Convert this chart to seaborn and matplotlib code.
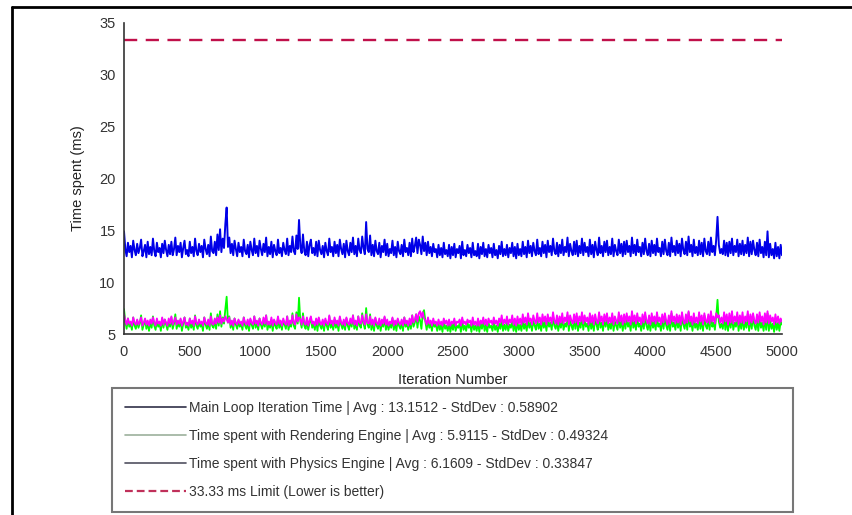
import matplotlib
matplotlib.use("Agg")
import matplotlib.pyplot as plt
from matplotlib.lines import Line2D
import numpy as np
import pandas as pd
import seaborn as sns

# Sampled timings, one reading every 10 iterations (0 .. 5000)
step = 10
main_loop_ms = [
    14.9, 13.2, 12.5, 13.8, 12.9, 13.5, 12.4, 14.0, 13.1, 12.6,
    13.7, 12.8, 13.3, 14.1, 12.5, 13.0, 13.6, 12.4, 13.9, 12.7,
    13.4, 12.6, 14.2, 13.0, 12.5, 13.8, 12.9, 13.3, 12.4, 13.7,
    12.8, 14.0, 13.1, 12.5, 13.6, 12.7, 13.9, 12.6, 13.2, 14.3,
    12.6, 13.5, 12.9, 13.8, 12.4, 13.3, 14.0, 12.7, 13.1, 12.5,
    13.9, 12.8, 13.4, 12.5, 14.2, 13.0, 12.6, 13.7, 12.9, 13.5,
    12.4, 14.1, 13.2, 12.7, 13.6, 12.5, 14.4, 13.0, 12.8, 13.9,
    12.6, 14.6, 13.1, 15.1, 12.9, 14.2, 13.3, 15.6, 17.2, 13.4,
    14.3, 12.8, 13.7, 12.6, 14.0, 13.2, 12.5, 13.8, 12.9, 13.4,
    12.5, 14.1, 13.0, 12.7, 13.6, 12.4, 13.9, 13.1, 12.6, 14.2,
    12.8, 13.5, 12.5, 14.0, 13.2, 12.6, 13.7, 12.9, 14.3, 12.5,
    13.4, 12.7, 13.9, 12.4, 13.6, 13.0, 12.6, 14.1, 12.8, 13.3,
    12.5, 13.8, 13.1, 12.7, 14.2, 12.6, 13.5, 12.9, 14.4, 13.0,
    12.7, 14.5, 13.2, 16.0, 13.4, 12.8, 14.6, 13.0, 12.6, 13.9,
    12.5, 13.6, 14.1, 12.8, 13.3, 12.6, 13.9, 12.5, 14.0, 13.1,
    12.7, 13.5, 12.4, 13.8, 13.0, 12.6, 14.2, 12.9, 13.4, 12.5,
    13.9, 12.8, 13.6, 12.5, 14.1, 13.2, 12.7, 13.7, 12.4, 14.0,
    13.0, 12.6, 13.8, 12.9, 14.3, 12.7, 13.5, 12.5, 14.2, 13.1,
    12.8, 14.4, 13.3, 12.7, 15.8, 13.2, 12.9, 14.5, 12.6, 13.6,
    12.5, 14.0, 13.0, 12.7, 13.8, 12.4, 13.5, 12.9, 14.1, 12.6,
    13.7, 12.5, 13.2, 12.8, 14.0, 12.6, 13.4, 12.4, 13.9, 13.0,
    12.7, 13.6, 12.5, 14.1, 12.9, 13.3, 12.6, 13.8, 12.5, 14.2,
    12.9, 13.5, 14.3, 12.8, 14.1, 13.6, 12.7, 14.4, 13.0, 13.8,
    12.6, 13.9, 12.8, 13.4, 12.5, 13.7, 12.9, 13.2, 12.4, 13.6,
    12.6, 13.3, 12.4, 13.8, 12.7, 13.1, 12.5, 13.6, 12.3, 13.4,
    12.6, 13.7, 12.4, 13.2, 12.8, 13.5, 12.3, 13.9, 12.6, 13.1,
    12.5, 13.6, 12.8, 13.3, 12.4, 13.8, 12.6, 13.0, 12.5, 13.7,
    12.3, 13.4, 12.7, 13.8, 12.5, 13.2, 12.4, 13.6, 12.8, 13.3,
    12.4, 13.7, 12.6, 13.1, 12.3, 13.5, 12.7, 13.9, 12.5, 13.2,
    12.6, 13.6, 12.4, 13.3, 12.8, 13.8, 12.5, 13.4, 12.3, 13.7,
    12.6, 13.2, 12.5, 13.9, 12.7, 13.4, 12.4, 14.0, 12.8, 13.5,
    12.5, 13.8, 13.0, 12.6, 14.1, 12.7, 13.3, 12.5, 13.9, 12.8,
    13.6, 12.4, 14.0, 12.9, 13.5, 12.6, 14.2, 13.0, 12.7, 13.8,
    12.5, 13.6, 12.8, 14.1, 12.6, 13.4, 12.9, 14.3, 12.5, 13.7,
    13.0, 12.6, 13.9, 12.7, 14.0, 12.5, 13.5, 12.8, 14.2, 12.6,
    13.8, 12.9, 13.4, 12.5, 14.1, 12.7, 13.6, 12.4, 13.9, 13.1,
    12.6, 14.3, 12.8, 13.5, 12.5, 13.9, 12.9, 14.0, 12.6, 13.4,
    12.7, 14.2, 12.5, 13.6, 13.0, 12.6, 14.1, 12.8, 13.7, 12.5,
    13.9, 12.7, 14.0, 12.9, 13.5, 12.5, 14.3, 12.8, 13.6, 12.6,
    14.1, 12.9, 13.4, 12.5, 13.8, 12.7, 14.2, 13.0, 12.6, 13.7,
    12.5, 14.0, 12.8, 13.6, 12.6, 14.2, 12.9, 13.3, 12.5, 13.9,
    12.7, 14.1, 13.0, 12.6, 13.8, 12.5, 14.3, 12.9, 13.5, 12.6,
    14.0, 12.8, 13.7, 12.5, 14.2, 13.1, 12.7, 13.9, 12.6, 14.4,
    12.9, 13.6, 12.5, 14.1, 12.8, 13.4, 12.6, 14.0, 12.7, 13.8,
    12.5, 14.2, 13.0, 12.7, 13.9, 12.6, 14.3, 12.9, 13.5, 12.6,
    14.1, 16.3, 13.6, 12.8, 13.2, 12.7, 14.0, 12.6, 13.8, 12.5,
    13.9, 12.8, 14.2, 12.6, 13.5, 12.9, 14.1, 12.5, 13.7, 12.7,
    14.0, 12.6, 13.6, 12.8, 14.3, 12.5, 13.9, 12.7, 14.0, 13.1,
    12.6, 13.8, 12.5, 14.1, 12.8, 13.4, 12.4, 13.9, 12.6, 14.9,
    12.4, 13.7, 12.6, 13.2, 12.3, 13.8, 12.5, 13.4, 12.3, 13.6,
    12.6,
]
rendering_ms = [
    7.4, 6.2, 5.5, 6.5, 5.7, 6.0, 5.4, 6.6, 5.8, 5.5,
    6.3, 5.6, 6.0, 6.8, 5.4, 5.9, 6.4, 5.5, 6.1, 5.3,
    6.2, 5.6, 6.7, 5.8, 5.4, 6.3, 5.7, 6.0, 5.3, 6.5,
    5.6, 6.4, 5.9, 5.4, 6.2, 5.7, 6.6, 5.5, 6.0, 6.9,
    5.5, 6.1, 5.7, 6.4, 5.3, 6.0, 6.6, 5.6, 5.9, 5.4,
    6.5, 5.6, 6.1, 5.4, 6.8, 5.8, 5.5, 6.3, 5.7, 6.0,
    5.3, 6.6, 5.9, 5.5, 6.2, 5.4, 7.0, 5.8, 5.6, 6.4,
    5.5, 6.9, 5.8, 7.2, 5.7, 6.6, 6.0, 7.4, 8.6, 6.1,
    6.7, 5.6, 6.2, 5.4, 6.5, 5.9, 5.5, 6.3, 5.7, 6.0,
    5.4, 6.6, 5.8, 5.5, 6.2, 5.3, 6.4, 5.9, 5.5, 6.7,
    5.6, 6.1, 5.4, 6.5, 5.9, 5.5, 6.3, 5.7, 6.8, 5.4,
    6.0, 5.6, 6.4, 5.3, 6.2, 5.8, 5.5, 6.6, 5.6, 6.1,
    5.4, 6.3, 5.9, 5.5, 6.7, 5.4, 6.0, 5.7, 7.0, 5.8,
    5.5, 7.1, 6.0, 8.5, 6.2, 5.6, 7.0, 5.8, 5.5, 6.4,
    5.4, 6.1, 6.6, 5.6, 6.0, 5.4, 6.4, 5.3, 6.5, 5.8,
    5.5, 6.2, 5.3, 6.3, 5.8, 5.4, 6.7, 5.6, 6.0, 5.4,
    6.4, 5.6, 6.1, 5.3, 6.6, 5.9, 5.5, 6.2, 5.4, 6.5,
    5.8, 5.4, 6.3, 5.7, 6.8, 5.5, 6.0, 5.4, 6.7, 5.8,
    5.6, 7.0, 6.0, 5.5, 7.5, 5.9, 5.6, 6.9, 5.4, 6.2,
    5.3, 6.5, 5.8, 5.5, 6.3, 5.3, 6.1, 5.7, 6.6, 5.4,
    6.2, 5.4, 6.0, 5.6, 6.5, 5.4, 6.1, 5.3, 6.4, 5.8,
    5.5, 6.2, 5.3, 6.6, 5.7, 6.0, 5.4, 6.3, 5.5, 6.8,
    5.7, 6.1, 6.9, 5.6, 6.7, 6.3, 5.5, 7.0, 7.3, 6.2,
    5.4, 6.4, 5.6, 6.0, 5.3, 6.2, 5.7, 5.9, 5.3, 6.1,
    5.4, 5.9, 5.2, 6.3, 5.5, 5.8, 5.3, 6.1, 5.2, 6.0,
    5.4, 6.2, 5.3, 5.8, 5.6, 6.0, 5.2, 6.4, 5.4, 5.8,
    5.3, 6.1, 5.6, 5.9, 5.2, 6.3, 5.4, 5.8, 5.3, 6.2,
    5.2, 6.0, 5.5, 6.3, 5.3, 5.9, 5.2, 6.1, 5.6, 5.8,
    5.3, 6.2, 5.4, 5.8, 5.2, 6.0, 5.5, 6.4, 5.3, 5.9,
    5.4, 6.1, 5.3, 5.9, 5.6, 6.3, 5.3, 6.0, 5.2, 6.2,
    5.4, 5.9, 5.3, 6.4, 5.5, 6.0, 5.3, 6.5, 5.6, 6.1,
    5.3, 6.3, 5.8, 5.4, 6.6, 5.5, 6.0, 5.3, 6.4, 5.6,
    6.2, 5.3, 6.5, 5.7, 6.1, 5.4, 6.7, 5.8, 5.5, 6.3,
    5.3, 6.2, 5.6, 6.6, 5.4, 6.0, 5.7, 6.8, 5.3, 6.3,
    5.8, 5.4, 6.5, 5.5, 6.6, 5.3, 6.1, 5.6, 6.9, 5.4,
    6.4, 5.7, 6.0, 5.3, 6.7, 5.5, 6.2, 5.3, 6.5, 5.9,
    5.4, 6.9, 5.6, 6.1, 5.3, 6.5, 5.7, 6.6, 5.4, 6.0,
    5.5, 6.8, 5.3, 6.2, 5.8, 5.4, 6.7, 5.6, 6.3, 5.3,
    6.5, 5.5, 6.6, 5.7, 6.1, 5.3, 7.0, 5.6, 6.2, 5.4,
    6.7, 5.7, 6.0, 5.3, 6.4, 5.5, 6.8, 5.8, 5.4, 6.3,
    5.3, 6.6, 5.6, 6.2, 5.4, 6.8, 5.7, 6.0, 5.3, 6.5,
    5.5, 6.7, 5.8, 5.4, 6.4, 5.3, 7.0, 5.7, 6.1, 5.4,
    6.6, 5.6, 6.3, 5.3, 6.8, 5.9, 5.5, 6.5, 5.4, 7.1,
    5.7, 6.2, 5.3, 6.7, 5.6, 6.0, 5.4, 6.6, 5.5, 6.4,
    5.3, 6.8, 5.8, 5.5, 6.5, 5.4, 7.0, 5.7, 6.1, 5.4,
    6.7, 8.3, 6.2, 5.6, 6.0, 5.5, 6.6, 5.4, 6.4, 5.3,
    6.5, 5.6, 6.8, 5.4, 6.1, 5.7, 6.7, 5.3, 6.3, 5.5,
    6.6, 5.4, 6.2, 5.6, 6.9, 5.3, 6.5, 5.5, 6.8, 5.8,
    5.4, 6.4, 5.3, 6.7, 5.6, 6.1, 5.3, 6.5, 5.4, 7.0,
    5.3, 6.3, 5.5, 6.0, 5.2, 6.4, 5.4, 6.1, 5.3, 6.2,
    5.9,
]
physics_ms = [
    6.9, 6.3, 5.9, 6.5, 6.0, 6.2, 5.8, 6.6, 6.1, 5.9,
    6.4, 5.9, 6.2, 6.6, 5.8, 6.1, 6.5, 5.9, 6.3, 5.8,
    6.4, 6.0, 6.6, 6.1, 5.8, 6.5, 6.0, 6.2, 5.8, 6.6,
    5.9, 6.4, 6.1, 5.8, 6.5, 6.0, 6.7, 5.9, 6.2, 6.6,
    5.9, 6.3, 6.0, 6.5, 5.8, 6.2, 6.6, 5.9, 6.1, 5.8,
    6.5, 6.0, 6.3, 5.8, 6.7, 6.1, 5.9, 6.4, 6.0, 6.2,
    5.8, 6.6, 6.1, 5.9, 6.4, 5.8, 6.7, 6.0, 5.9, 6.5,
    6.0, 6.6, 6.1, 6.8, 6.0, 6.5, 6.2, 6.7, 6.4, 6.1,
    6.6, 5.9, 6.3, 5.8, 6.5, 6.1, 5.9, 6.4, 6.0, 6.2,
    5.8, 6.6, 6.1, 5.9, 6.4, 5.8, 6.5, 6.1, 5.9, 6.7,
    6.0, 6.3, 5.8, 6.5, 6.1, 5.9, 6.6, 6.0, 6.8, 5.9,
    6.2, 5.9, 6.6, 5.8, 6.4, 6.1, 5.9, 6.7, 6.0, 6.3,
    5.8, 6.5, 6.1, 5.9, 6.7, 5.8, 6.3, 6.0, 6.8, 6.1,
    5.9, 6.9, 6.2, 6.6, 6.4, 5.9, 6.7, 6.1, 5.9, 6.6,
    5.8, 6.3, 6.7, 6.0, 6.2, 5.8, 6.5, 5.9, 6.6, 6.1,
    5.9, 6.4, 5.8, 6.5, 6.1, 5.9, 6.8, 6.0, 6.3, 5.8,
    6.6, 6.0, 6.3, 5.8, 6.7, 6.1, 5.9, 6.4, 5.8, 6.6,
    6.1, 5.9, 6.5, 6.0, 6.8, 5.9, 6.3, 5.8, 6.7, 6.1,
    6.0, 6.8, 6.2, 5.9, 6.9, 6.1, 6.0, 6.7, 5.9, 6.4,
    5.8, 6.6, 6.1, 5.9, 6.5, 5.8, 6.4, 6.0, 6.7, 5.9,
    6.4, 5.8, 6.2, 6.0, 6.6, 5.8, 6.3, 5.9, 6.5, 6.1,
    5.9, 6.4, 5.8, 6.6, 6.0, 6.3, 5.8, 6.5, 5.9, 6.8,
    6.1, 6.4, 6.9, 6.2, 7.0, 7.2, 6.6, 7.1, 6.5, 6.3,
    5.9, 6.6, 6.0, 6.3, 5.8, 6.5, 6.0, 6.2, 5.8, 6.4,
    5.9, 6.2, 5.8, 6.5, 6.0, 6.3, 5.8, 6.4, 5.8, 6.2,
    6.0, 6.5, 5.8, 6.2, 6.1, 6.4, 5.8, 6.6, 6.0, 6.2,
    5.9, 6.4, 6.1, 6.3, 5.8, 6.6, 5.9, 6.2, 5.8, 6.5,
    5.8, 6.3, 6.0, 6.6, 5.9, 6.4, 5.8, 6.5, 6.1, 6.3,
    5.9, 6.6, 6.0, 6.3, 5.8, 6.5, 6.1, 6.8, 5.9, 6.4,
    6.0, 6.7, 5.9, 6.4, 6.1, 6.8, 5.9, 6.5, 5.8, 6.7,
    6.0, 6.5, 5.9, 6.9, 6.1, 6.6, 5.9, 7.0, 6.2, 6.5,
    5.9, 6.8, 6.3, 6.0, 7.0, 6.1, 6.6, 5.9, 6.9, 6.2,
    6.7, 5.9, 6.9, 6.2, 6.6, 6.0, 7.1, 6.3, 6.0, 6.8,
    5.9, 6.7, 6.1, 7.0, 6.0, 6.6, 6.2, 7.1, 5.9, 6.8,
    6.3, 6.0, 6.9, 6.1, 7.0, 5.9, 6.7, 6.2, 7.1, 6.0,
    6.8, 6.2, 6.6, 5.9, 7.0, 6.1, 6.8, 5.9, 6.9, 6.3,
    6.0, 7.1, 6.2, 6.7, 5.9, 6.9, 6.2, 7.0, 6.0, 6.6,
    6.1, 7.0, 5.9, 6.7, 6.3, 6.0, 7.1, 6.2, 6.8, 5.9,
    6.9, 6.1, 7.0, 6.2, 6.7, 5.9, 7.2, 6.2, 6.8, 6.0,
    7.0, 6.2, 6.6, 5.9, 6.9, 6.1, 7.1, 6.3, 6.0, 6.8,
    5.9, 7.0, 6.2, 6.7, 6.0, 7.1, 6.2, 6.6, 5.9, 6.9,
    6.1, 7.0, 6.3, 5.9, 6.8, 6.0, 7.2, 6.2, 6.7, 6.0,
    6.9, 6.1, 6.8, 5.9, 7.1, 6.3, 6.0, 6.9, 6.1, 7.2,
    6.2, 6.7, 5.9, 7.0, 6.1, 6.6, 6.0, 7.1, 6.2, 6.8,
    5.9, 7.0, 6.3, 6.1, 6.9, 6.0, 7.2, 6.2, 6.7, 6.0,
    7.0, 6.6, 6.8, 6.1, 6.6, 6.0, 7.1, 6.2, 6.9, 5.9,
    7.0, 6.1, 7.2, 6.0, 6.7, 6.2, 7.1, 5.9, 6.8, 6.1,
    7.1, 6.0, 6.7, 6.2, 7.2, 5.9, 6.9, 6.1, 7.0, 6.3,
    6.0, 6.9, 6.1, 7.1, 6.2, 6.7, 5.9, 7.0, 6.1, 7.2,
    6.0, 6.8, 6.2, 6.6, 5.9, 6.9, 6.1, 6.7, 6.0, 6.5,
    6.2,
]
limit_x = [0, 5000]
limit_y = [33.33, 33.33]

legend_labels = [
    "Main Loop Iteration Time | Avg : 13.1512 - StdDev : 0.58902",
    "Time spent with Rendering Engine | Avg : 5.9115 - StdDev : 0.49324",
    "Time spent with Physics Engine | Avg : 6.1609 - StdDev : 0.33847",
    "33.33 ms Limit (Lower is better)",
]
x_ticks = [0, 500, 1000, 1500, 2000, 2500, 3000, 3500, 4000, 4500, 5000]
y_ticks = [5, 10, 15, 20, 25, 30, 35]

iterations = np.arange(len(main_loop_ms)) * step
df = pd.DataFrame({
    "iteration": iterations,
    "main": main_loop_ms,
    "rendering": rendering_ms,
    "physics": physics_ms,
})

sns.set_style("white")
plt.rcParams["font.family"] = ["Liberation Sans", "DejaVu Sans"]

fig = plt.figure(figsize=(8.53, 5.15), dpi=100)
ax = fig.add_axes([124 / 853, 1 - 334 / 515, (782 - 124) / 853, (334 - 23) / 515])

sns.lineplot(data=df, x="iteration", y="main", ax=ax, color="#0000e8", linewidth=1.4)
sns.lineplot(data=df, x="iteration", y="rendering", ax=ax, color="#00ff00", linewidth=1.3)
sns.lineplot(data=df, x="iteration", y="physics", ax=ax, color="#ff00ff", linewidth=1.3)
sns.lineplot(x=limit_x, y=limit_y, ax=ax, color="#c0104a", linewidth=1.7)
ax.lines[-1].set_dashes([5.6, 3.6])

ax.set_xlim(0, 5000)
ax.set_ylim(5, 35)
ax.set_xticks(x_ticks)
ax.set_yticks(y_ticks)
ax.tick_params(axis="both", direction="in", length=4, width=1, color="#333333",
               labelsize=10.5, labelcolor="#333333")
ax.tick_params(axis="x", pad=8)
ax.tick_params(axis="y", pad=6)
for side in ("top", "right"):
    ax.spines[side].set_visible(False)
for side in ("left", "bottom"):
    ax.spines[side].set_color("#333333")
    ax.spines[side].set_linewidth(1.2)
ax.set_xlabel("Iteration Number", fontsize=10.5, color="#222222", labelpad=10)
ax.set_ylabel("Time spent (ms)", fontsize=10.5, color="#222222", labelpad=10)
ax.set_facecolor("white")

handles = [
    Line2D([], [], color="#303048", linewidth=1.2),
    Line2D([], [], color="#9cb09c", linewidth=1.2),
    Line2D([], [], color="#505060", linewidth=1.2),
    Line2D([], [], color="#c0305a", linewidth=1.6, dashes=[3.5, 1.8]),
]
leg = fig.legend(handles, legend_labels, loc="upper left",
                 bbox_to_anchor=(112 / 853, 1 - 388 / 515, (793 - 112) / 853, 0.0),
                 mode="expand", fontsize=10, frameon=True, fancybox=False,
                 edgecolor="#555555", handlelength=4.4, handletextpad=0.2,
                 labelspacing=1.0, borderpad=0.95, borderaxespad=0.0)
leg.get_frame().set_linewidth(1.5)
for t in leg.get_texts():
    t.set_color("#333333")

# outer frame edges
fig.add_artist(Line2D([12 / 853, 1.0], [1 - 7 / 515, 1 - 7 / 515], color="black", linewidth=2.0))
fig.add_artist(Line2D([12 / 853, 12 / 853], [1 - 7 / 515, 0.0], color="black", linewidth=2.0))

fig.savefig("out.png", dpi=100, facecolor="white")
